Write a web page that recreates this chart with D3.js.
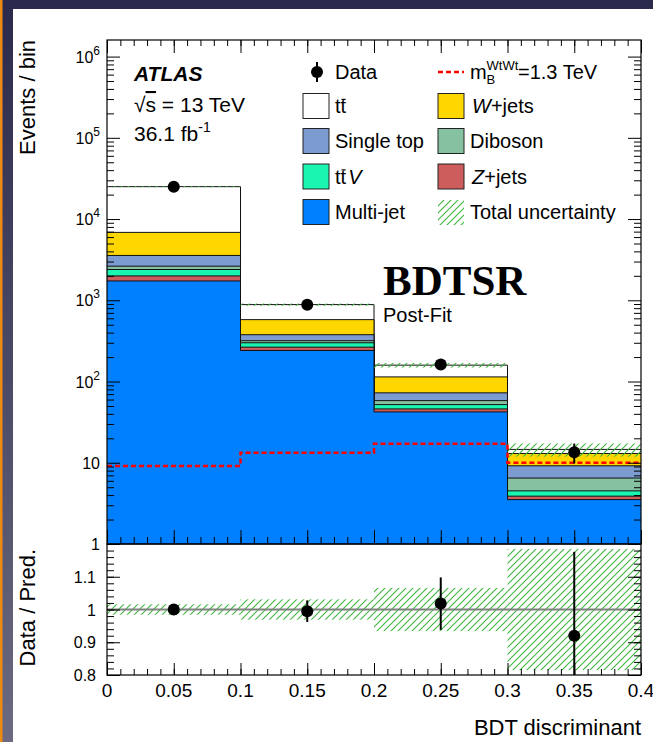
<!DOCTYPE html>
<html>
<head>
<meta charset="utf-8">
<script src="https://cdn.jsdelivr.net/npm/d3@7"></script>
<style>
body { margin: 0; background: #fff; }
svg text { font-family: "Liberation Sans", Arial, sans-serif; fill: #000; }
</style>
</head>
<body>
<svg id="chart" width="653" height="742"></svg>
<script>
// ---- data ----
const binEdges = [0, 0.1, 0.2, 0.3, 0.4];
const binCenters = [0.05, 0.15, 0.25, 0.35];
const multijet = [1730, 241, 42.3, 3.52];
const zjets = [265, 24, 3.7, 0.36];
const ttv = [398, 35, 6.0, 0.63];
const diboson = [237, 18, 6.2, 1.97];
const singletop = [934, 59, 14.3, 2.7];
const wjets = [3291, 201, 41.5, 3.82];
const ttbar = [18205, 307, 45, 1.6];
const dataVals = [25000, 880, 162, 13.5];
const dataErr = [158, 30, 13, 3.7];
const signal = [9.1, 13.3, 17.2, 10.0];
const uncRel = [0.016, 0.031, 0.066, 0.185];
const ratioVals = [1.0, 0.995, 1.018, 0.92];
const ratioErr = [0.006, 0.033, 0.08, 0.256];
const xTickVals = [0, 0.05, 0.1, 0.15, 0.2, 0.25, 0.3, 0.35, 0.4];
const xTickLabels = ["0", "0.05", "0.1", "0.15", "0.2", "0.25", "0.3", "0.35", "0.4"];
const yDecades = [1, 10, 100, 1000, 10000, 100000, 1000000];
const yDecadeExp = [0, 1, 2, 3, 4, 5, 6];
const ratioTickVals = [0.8, 0.9, 1, 1.1];
const ratioTickLabels = ["0.8", "0.9", "1", "1.1"];

// stacking order, bottom first
const stackKeys = ["multijet", "zjets", "ttv", "diboson", "singletop", "wjets", "ttbar"];
const stackVals = { multijet, zjets, ttv, diboson, singletop, wjets, ttbar };
const colors = {
    multijet: "#0080ff", zjets: "#cd5c5c", ttv: "#1af5b0", diboson: "#86c1a1",
    singletop: "#7b9bd1", wjets: "#ffd700", ttbar: "#ffffff"
};

let svg = d3.select("#chart");
let left = 107, right = 641, plotTop = 40, mainBottom = 544, ratioBottom = 675;

// slide frame around the plot
let defs = svg.append("defs");
let grad = defs.append("linearGradient").attr("id", "bg").attr("x1", 0).attr("y1", 0).attr("x2", 0).attr("y2", 1);
grad.append("stop").attr("offset", "0%").attr("stop-color", "#2b2a4c");
grad.append("stop").attr("offset", "100%").attr("stop-color", "#6b6a80");
svg.append("rect").attr("width", 653).attr("height", 742).attr("fill", "url(#bg)");
svg.append("rect").attr("width", 2.5).attr("height", 742).attr("fill", "#ec8a12");
svg.append("rect").attr("x", 13).attr("y", 9).attr("width", 640).attr("height", 733).attr("fill", "#fff");

// hatch pattern for the uncertainty
let pat = defs.append("pattern").attr("id", "hatch").attr("patternUnits", "userSpaceOnUse")
    .attr("width", 7).attr("height", 7);
pat.append("path").attr("d", "M-1,8 L8,-1 M-1,1 L1,-1 M6,8 L8,6")
    .attr("stroke", "#3fb43f").attr("stroke-width", 1.1).attr("fill", "none");

defs.append("clipPath").attr("id", "clipMain").append("rect")
    .attr("x", left).attr("y", plotTop).attr("width", right - left).attr("height", mainBottom - plotTop);
defs.append("clipPath").attr("id", "clipRatio").append("rect")
    .attr("x", left).attr("y", mainBottom).attr("width", right - left).attr("height", ratioBottom - mainBottom);

let x = d3.scaleLinear().domain([0, 0.4]).range([left, right]);
let y = d3.scaleLog().domain([1, 1.6e6]).range([mainBottom, plotTop]);
let yr = d3.scaleLinear().domain([0.8, 1.2]).range([ratioBottom, mainBottom]);

// ---- stacked histogram ----
let rows = binCenters.map((c, i) => {
    let r = { bin: i };
    stackKeys.forEach(k => r[k] = stackVals[k][i]);
    return r;
});
let series = d3.stack().keys(stackKeys)(rows);

let main = svg.append("g").attr("clip-path", "url(#clipMain)");
let stepPts = s => binEdges.map((e, i) => [x(e), y(s[Math.min(i, s.length - 1)][1])]);
let area = d3.area().curve(d3.curveStepAfter).x(d => d[0]).y0(mainBottom).y1(d => d[1]);
let line = d3.line().curve(d3.curveStepAfter);

// draw the tallest layer first so the smaller ones sit on top
series.slice().reverse().forEach(s => {
    let pts = stepPts(s);
    main.append("path").attr("d", area(pts)).attr("fill", colors[s.key]);
    main.append("path").attr("d", line(pts)).attr("fill", "none").attr("stroke", "#111").attr("stroke-width", 1);
});

// total uncertainty
let totals = rows.map((r, i) => series[series.length - 1][i][1]);
main.selectAll("rect.unc").data(totals).enter().append("rect")
    .attr("x", (d, i) => x(binEdges[i]))
    .attr("width", (d, i) => x(binEdges[i + 1]) - x(binEdges[i]))
    .attr("y", (d, i) => y(d * (1 + uncRel[i])))
    .attr("height", (d, i) => y(d * (1 - uncRel[i])) - y(d * (1 + uncRel[i])))
    .attr("fill", "url(#hatch)");

// signal
let sigPts = binEdges.map((e, i) => [x(e), y(signal[Math.min(i, signal.length - 1)])]);
main.append("path").attr("d", line(sigPts)).attr("fill", "none")
    .attr("stroke", "#ff0000").attr("stroke-width", 2.5).attr("stroke-dasharray", "5,3");

// data points
main.selectAll("line.err").data(dataVals).enter().append("line")
    .attr("x1", (d, i) => x(binCenters[i])).attr("x2", (d, i) => x(binCenters[i]))
    .attr("y1", (d, i) => y(d + dataErr[i])).attr("y2", (d, i) => y(d - dataErr[i]))
    .attr("stroke", "#000").attr("stroke-width", 2);
main.selectAll("circle.pt").data(dataVals).enter().append("circle")
    .attr("cx", (d, i) => x(binCenters[i])).attr("cy", d => y(d)).attr("r", 6).attr("fill", "#000");

// ---- ratio panel ----
let rat = svg.append("g").attr("clip-path", "url(#clipRatio)");
rat.selectAll("rect.unc").data(uncRel).enter().append("rect")
    .attr("x", (d, i) => x(binEdges[i]))
    .attr("width", (d, i) => x(binEdges[i + 1]) - x(binEdges[i]))
    .attr("y", d => yr(1 + d)).attr("height", d => yr(1 - d) - yr(1 + d))
    .attr("fill", "url(#hatch)");
rat.append("line").attr("x1", left).attr("x2", right).attr("y1", yr(1)).attr("y2", yr(1))
    .attr("stroke", "#808080").attr("stroke-width", 1.8);
rat.selectAll("line.err").data(ratioVals).enter().append("line")
    .attr("x1", (d, i) => x(binCenters[i])).attr("x2", (d, i) => x(binCenters[i]))
    .attr("y1", (d, i) => yr(d + ratioErr[i])).attr("y2", (d, i) => yr(d - ratioErr[i]))
    .attr("stroke", "#000").attr("stroke-width", 2);
rat.selectAll("circle.pt").data(ratioVals).enter().append("circle")
    .attr("cx", (d, i) => x(binCenters[i])).attr("cy", d => yr(d)).attr("r", 6).attr("fill", "#000");

// ---- axes (ticks inside the frame) ----
function tickAxis(axisFn, scale, values, size, tx, ty) {
    let g = svg.append("g").attr("transform", "translate(" + tx + "," + ty + ")")
        .call(axisFn(scale).tickValues(values).tickSize(size).tickFormat(""));
    g.select(".domain").remove();
    g.selectAll(".tick line").attr("stroke", "#000").attr("stroke-width", 1);
}
let logMinor = [];
yDecades.forEach(d => { for (let k = 2; k <= 9; k++) if (d * k < 1.6e6) logMinor.push(d * k); });
let xMinor = d3.range(0, 0.4001, 0.01);
let rMajor = [0.8, 0.9, 1.0, 1.1, 1.2];
let rMinor = d3.range(0.8, 1.2001, 0.02);

tickAxis(d3.axisLeft, y, yDecades, -13, left, 0);
tickAxis(d3.axisLeft, y, logMinor, -7, left, 0);
tickAxis(d3.axisRight, y, yDecades, -13, right, 0);
tickAxis(d3.axisRight, y, logMinor, -7, right, 0);
tickAxis(d3.axisTop, x, xTickVals, -13, 0, plotTop);
tickAxis(d3.axisTop, x, xMinor, -6, 0, plotTop);
tickAxis(d3.axisBottom, x, xTickVals, -14, 0, mainBottom);
tickAxis(d3.axisBottom, x, xMinor, -7, 0, mainBottom);
tickAxis(d3.axisBottom, x, xTickVals, -12, 0, ratioBottom);
tickAxis(d3.axisBottom, x, xMinor, -6, 0, ratioBottom);
tickAxis(d3.axisLeft, yr, rMajor, -13, left, 0);
tickAxis(d3.axisLeft, yr, rMinor, -7, left, 0);
tickAxis(d3.axisRight, yr, rMajor, -13, right, 0);
tickAxis(d3.axisRight, yr, rMinor, -7, right, 0);

svg.append("rect").attr("x", left).attr("y", plotTop).attr("width", right - left).attr("height", mainBottom - plotTop)
    .attr("fill", "none").attr("stroke", "#000").attr("stroke-width", 1.2);
svg.append("rect").attr("x", left).attr("y", mainBottom).attr("width", right - left).attr("height", ratioBottom - mainBottom)
    .attr("fill", "none").attr("stroke", "#000").attr("stroke-width", 1.2);

// tick labels
let yl = svg.append("g").attr("font-size", 16).attr("text-anchor", "end");
yDecades.forEach((d, i) => {
    let t = yl.append("text").attr("x", 100).attr("y", y(d) + 6);
    if (yDecadeExp[i] < 2) {
        t.text(String(d));
    } else {
        t.append("tspan").text("10");
        t.append("tspan").attr("font-size", 12).attr("dy", -8).text(yDecadeExp[i]);
    }
});
ratioTickVals.forEach((d, i) => {
    yl.append("text").attr("x", 96).attr("y", yr(d) + 6).text(ratioTickLabels[i]);
});
svg.append("g").attr("font-size", 19).attr("text-anchor", "middle")
    .selectAll("text").data(xTickVals).enter().append("text")
    .attr("x", d => x(d)).attr("y", 697).text((d, i) => xTickLabels[i]);

// axis titles
svg.append("text").attr("font-size", 22).attr("text-anchor", "end")
    .attr("transform", "translate(35," + plotTop + ") rotate(-90)").text("Events / bin");
svg.append("text").attr("font-size", 22).attr("text-anchor", "end")
    .attr("transform", "translate(35," + (mainBottom + 5) + ") rotate(-90)").text("Data / Pred.");
svg.append("text").attr("font-size", 22).attr("text-anchor", "end")
    .attr("x", right).attr("y", 735).text("BDT discriminant");

// ---- labels ----
svg.append("text").attr("x", 134).attr("y", 81).attr("font-size", 21)
    .attr("font-weight", "bold").attr("font-style", "italic").text("ATLAS");
let sq = svg.append("text").attr("x", 134).attr("y", 112).attr("font-size", 21);
sq.append("tspan").text("\u221A");
sq.append("tspan").style("text-decoration", "overline").text("s");
sq.append("tspan").text(" = 13 TeV");
let lumi = svg.append("text").attr("x", 134).attr("y", 141).attr("font-size", 21);
lumi.append("tspan").text("36.1 fb");
lumi.append("tspan").attr("font-size", 14).attr("dy", -9).text("-1");

svg.append("text").attr("x", 383).attr("y", 295).attr("font-size", 43).attr("font-weight", "bold")
    .style("font-family", "'Liberation Serif', 'Times New Roman', serif").text("BDTSR");
svg.append("text").attr("x", 383).attr("y", 322).attr("font-size", 20).text("Post-Fit");

// ---- legend ----
let rowsY = [72, 106, 141, 176.5, 212];
let legLeft = [
    { key: "data", parts: [["Data"]] },
    { key: "ttbar", parts: [["t"], ["t", "over"]] },
    { key: "singletop", parts: [["Single top"]] },
    { key: "ttv", parts: [["t"], ["t", "over"], ["V", "it"]] },
    { key: "multijet", parts: [["Multi-jet"]] }
];
let legRight = [
    { key: "signal", parts: [] },
    { key: "wjets", parts: [["W", "it"], ["+jets"]] },
    { key: "diboson", parts: [["Diboson"]] },
    { key: "zjets", parts: [["Z", "it"], ["+jets"]] },
    { key: "unc", parts: [["Total uncertainty"]] }
];
let leg = svg.append("g");
function legendEntry(e, i, bx) {
    let cy = rowsY[i];
    if (e.key === "data") {
        leg.append("line").attr("x1", bx + 14).attr("x2", bx + 14).attr("y1", cy - 10).attr("y2", cy + 10)
            .attr("stroke", "#000").attr("stroke-width", 2);
        leg.append("circle").attr("cx", bx + 14).attr("cy", cy).attr("r", 6).attr("fill", "#000");
    } else if (e.key === "signal") {
        leg.append("line").attr("x1", bx).attr("x2", bx + 26).attr("y1", cy).attr("y2", cy)
            .attr("stroke", "#ff0000").attr("stroke-width", 2.5).attr("stroke-dasharray", "5,3");
    } else if (e.key === "unc") {
        leg.append("rect").attr("x", bx).attr("y", cy - 12).attr("width", 26).attr("height", 25)
            .attr("fill", "url(#hatch)");
    } else {
        leg.append("rect").attr("x", bx).attr("y", cy - 12.5).attr("width", 26).attr("height", 25)
            .attr("fill", colors[e.key]).attr("stroke", "#222").attr("stroke-width", 1);
    }
    let fs = 20, base = cy + 7;
    let t = leg.append("text").attr("x", bx + 32).attr("y", base).attr("font-size", fs);
    let charIdx = 0, bars = [];
    e.parts.forEach(p => {
        let ts = t.append("tspan").text(p[0]);
        if (p[1] === "it") ts.attr("font-style", "italic").attr("dx", 2);
        if (p[1] === "over") bars.push(charIdx);
        charIdx += p[0].length;
    });
    // short bar over the anti-top "t"
    bars.forEach(ci => {
        let ext = t.node().getExtentOfChar(ci);
        leg.append("line").attr("x1", ext.x + 1).attr("x2", ext.x + ext.width - 0.5)
            .attr("y1", base - 0.68 * fs).attr("y2", base - 0.68 * fs)
            .attr("stroke", "#000").attr("stroke-width", 1.2);
    });
}
legLeft.forEach((e, i) => legendEntry(e, i, 303));
legRight.forEach((e, i) => legendEntry(e, i, 438));

// signal label with stacked sub/superscript
let sx = 470, sy = 79;
svg.append("text").attr("x", sx).attr("y", sy).attr("font-size", 20).text("m");
svg.append("text").attr("x", sx + 16.5).attr("y", sy - 9).attr("font-size", 13).text("WtWt");
svg.append("text").attr("x", sx + 16.5).attr("y", sy + 5).attr("font-size", 13).text("B");
svg.append("text").attr("x", sx + 48).attr("y", sy).attr("font-size", 20).text("=1.3 TeV");
</script>
</body>
</html>
